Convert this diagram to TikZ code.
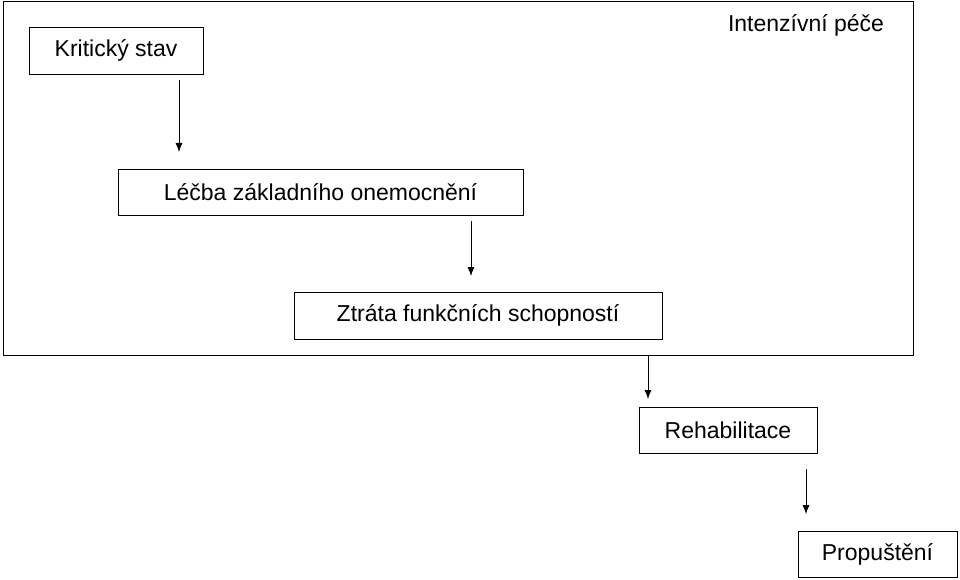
\documentclass[tikz,border=0pt]{standalone}
\usepackage{fontspec}
\setmainfont{Liberation Sans}
\usetikzlibrary{arrows.meta}
\tikzstyle{stage}=[draw, thick, inner sep=0pt, font=\fontsize{23}{27}\selectfont]
\tikzstyle{flow}=[thick, -{Latex[length=9pt,width=7pt]}]
\begin{document}
\begin{tikzpicture}[x=1pt, y=-1pt]
    \useasboundingbox (0,0) rectangle (960,580);
    \draw[thick] (3,1) rectangle (913,355);
    \node[font=\fontsize{23}{27}\selectfont] (icu) at (806,25) {Intenzívní péče};
    \node[stage, minimum width=174pt, minimum height=47pt] (crit) at (116,50.5) {Kritický stav};
    \node[stage, minimum width=405pt, minimum height=46pt] (treat) at (320.5,192) {Léčba základního onemocnění};
    \node[stage, minimum width=368pt, minimum height=47pt] (loss) at (478,315.5) {Ztráta funkčních schopností};
    \node[stage, minimum width=178pt, minimum height=46pt] (rehab) at (728,430) {Rehabilitace};
    \node[stage, minimum width=159pt, minimum height=46pt] (out) at (877.5,554) {Propuštění};
    \coordinate (a1) at (179,80);  \coordinate (b1) at (179,152);
    \coordinate (a2) at (471,221); \coordinate (b2) at (471,276);
    \coordinate (a3) at (648,356); \coordinate (b3) at (648,399);
    \coordinate (a4) at (806,469); \coordinate (b4) at (806,514);
    \path[flow]
        (a1) edge (b1)
        (a2) edge (b2)
        (a3) edge (b3)
        (a4) edge (b4)
    ;
\end{tikzpicture}
\end{document}
